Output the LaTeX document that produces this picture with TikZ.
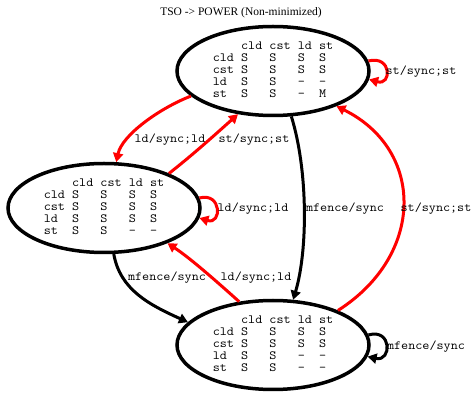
\documentclass[tikz,border=0pt]{standalone}
\usepackage{fontspec}
\setmainfont{Liberation Serif}
\setmonofont{Latin Modern Mono}[FakeStretch=1.1]
\usetikzlibrary{arrows.meta,shapes.geometric}

\tikzset{
  state/.style={ellipse, draw, line width=3.5pt, minimum width=192pt,
    minimum height=89pt, inner sep=0pt,
    font=\ttfamily\fontsize{12.5}{12}\selectfont},
  lbl/.style={font=\ttfamily\fontsize{12.5}{12}\selectfont, inner sep=0pt},
  redge/.style={draw=red, line width=3pt, -{Triangle[length=9pt,width=10pt]}},
  bedge/.style={draw=black, line width=3pt, -{Triangle[length=9pt,width=10pt]}},
}

\newenvironment{ordtab}{\begin{tabular}{@{}l@{\ }l@{\ }l@{\ }l@{\ }l@{}}}{\end{tabular}}

\begin{document}
\begin{tikzpicture}[x=1pt,y=-1pt]
\useasboundingbox (0,0) rectangle (472,395);

\node[font=\fontsize{11.5}{12}\selectfont] (title) at (241,13) {TSO -> POWER (Non-minimized)};

% states
\node[state] (top) at (273,71) {\begin{ordtab}
    & cld & cst & ld & st \\
cld & S & S & S & S \\
cst & S & S & S & S \\
ld  & S & S & - & - \\
st  & S & S & - & M
\end{ordtab}};

\node[state] (left) at (104,208) {\begin{ordtab}
    & cld & cst & ld & st \\
cld & S & S & S & S \\
cst & S & S & S & S \\
ld  & S & S & S & S \\
st  & S & S & - & -
\end{ordtab}};

\node[state] (bot) at (273,345) {\begin{ordtab}
    & cld & cst & ld & st \\
cld & S & S & S & S \\
cst & S & S & S & S \\
ld  & S & S & - & - \\
st  & S & S & - & -
\end{ordtab}};

% transitions
\draw[redge] (top.197) .. controls (160,108) and (122,135) .. (left.75);
\draw[redge] (left.28) .. controls (195,153) and (218,132) .. (top.231);
\draw[redge] (top.6) .. controls (392,55) and (392,86) .. (top.-5);
\draw[redge] (left.6) .. controls (222,192) and (222,225) .. (left.-6);
\draw[bedge] (top.292) .. controls (308,170) and (308,250) .. (bot.66);
\draw[redge] (bot.28) .. controls (425,255) and (425,150) .. (top.331);
\draw[bedge] (left.282) .. controls (120,290) and (150,305) .. (bot.165);
\draw[redge] (bot.128) .. controls (215,280) and (190,258) .. (left.331);
\draw[bedge] (bot.6) .. controls (392,328) and (392,362) .. (bot.-7);

% transition labels
\node[lbl] (l1) at (170,140) {ld/sync;ld};
\node[lbl] (l2) at (254,140) {st/sync;st};
\node[lbl] (l3) at (421,72) {st/sync;st};
\node[lbl] (l4) at (253,209) {ld/sync;ld};
\node[lbl] (l5) at (345,209) {mfence/sync};
\node[lbl] (l6) at (436,209) {st/sync;st};
\node[lbl] (l7) at (167,278) {mfence/sync};
\node[lbl] (l8) at (256,278) {ld/sync;ld};
\node[lbl] (l9) at (426,347) {mfence/sync};
\end{tikzpicture}
\end{document}
